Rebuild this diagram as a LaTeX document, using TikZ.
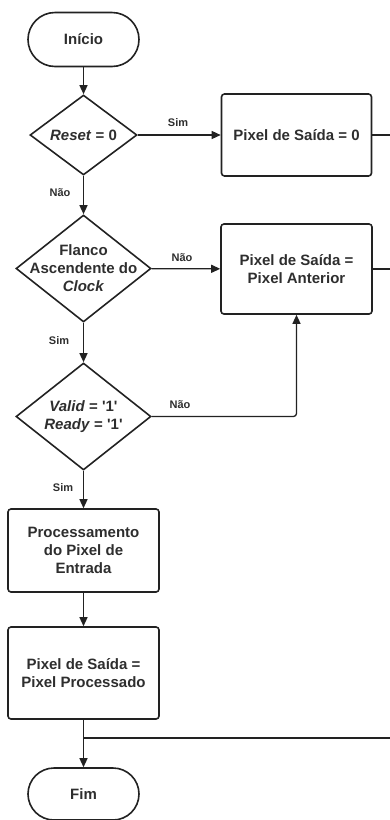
\documentclass[tikz,border=0pt]{standalone}
\usepackage{fontspec}
\setmainfont{Liberation Sans}
\usetikzlibrary{shapes.geometric,shapes.misc,arrows.meta}
\definecolor{ink}{HTML}{222222}
\definecolor{txt}{HTML}{2E2E2E}
\tikzset{
  shapeline/.style={draw=ink, line width=1.6pt},
  term/.style={shapeline, rounded rectangle, minimum width=111pt, minimum height=54pt, inner sep=0pt},
  procbox/.style={shapeline, rectangle, rounded corners=3pt, inner sep=0pt},
  decision/.style={shapeline, diamond, inner sep=0pt},
  lbl/.style={text=txt, font=\bfseries\fontsize{15}{18}\selectfont, align=center, inner sep=0pt},
  small/.style={text=txt, font=\bfseries\fontsize{11}{13}\selectfont, inner sep=0pt},
  conn/.style={draw=ink, line width=1.3pt},
  arr/.style={conn, -{Triangle[length=9pt,width=8pt]}}
}
\begin{document}
\begin{tikzpicture}[x=1pt,y=-1pt]
\useasboundingbox (0,0) rectangle (390,820);
% nodes
\node[term] (ini) at (83.5,39.5) {};
\node[lbl] at (ini) {Início};
\node[decision, minimum width=107pt, minimum height=80pt] (d1) at (83.5,135) {};
\node[lbl] at (d1) {\textit{Reset} = 0};
\node[procbox, minimum width=150pt, minimum height=82pt] (b1) at (296.5,135) {};
\node[lbl] at (b1) {Pixel de Saída = 0};
\node[decision, minimum width=135pt, minimum height=107pt] (d2) at (83.5,268.5) {};
\node[lbl] at (d2) {Flanco\\Ascendente do\\\textit{Clock}};
\node[procbox, minimum width=151pt, minimum height=90pt] (b2) at (296.5,269) {};
\node[lbl] at (b2) {Pixel de Saída =\\Pixel Anterior};
\node[decision, minimum width=135pt, minimum height=107pt] (d3) at (83.5,416.5) {};
\node[lbl] at (d3) {\textit{Valid} = \textquotesingle1\textquotesingle\\\textit{Ready} = \textquotesingle1\textquotesingle};
\node[procbox, minimum width=151pt, minimum height=83pt] (b3) at (83.5,550.5) {};
\node[lbl] at (b3) {Processamento\\do Pixel de\\Entrada};
\node[procbox, minimum width=151pt, minimum height=92pt] (b4) at (83.5,673) {};
\node[lbl] at (b4) {Pixel de Saída =\\Pixel Processado};
\node[term, minimum height=52pt] (fim) at (83.5,794) {};
\node[lbl] at (fim) {Fim};
% free ends
\coordinate (r1) at (393,135);
\coordinate (r2) at (393,269);
\coordinate (r3) at (393,738);
\coordinate (j) at (83.5,738);
% connectors
\draw[arr] (ini) -- (d1);
\draw[arr] (d1) -- (b1);
\draw[conn] (b1) -- (r1);
\draw[arr] (d1) -- (d2);
\draw[arr] (d2) -- (b2);
\draw[conn] (b2) -- (r2);
\draw[arr] (d2) -- (d3);
\draw[arr, rounded corners=3pt] (d3.east) -| (b2.south);
\draw[arr] (d3) -- (b3);
\draw[arr] (b3) -- (b4);
\draw[arr] (b4) -- (fim);
\draw[conn] (r3) -- (j);
% labels
\node[small] at (178,123) {Sim};
\node[small] at (60,193) {Não};
\node[small] at (182,258) {Não};
\node[small] at (59,341) {Sim};
\node[small] at (180,405) {Não};
\node[small] at (63,488) {Sim};
\end{tikzpicture}
\end{document}
